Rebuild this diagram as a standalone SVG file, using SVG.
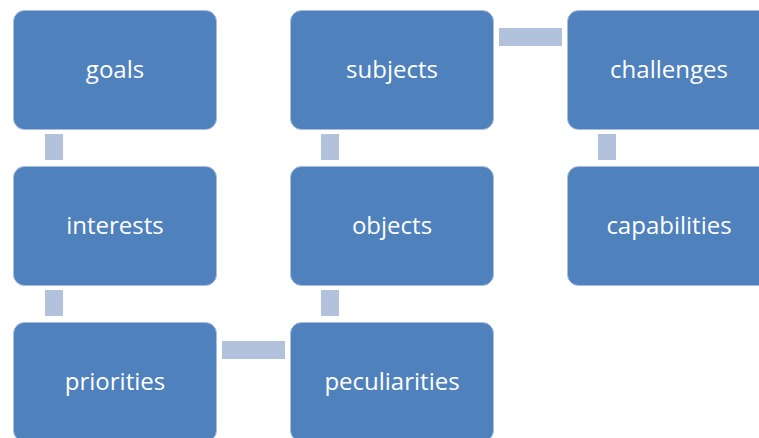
<svg xmlns="http://www.w3.org/2000/svg" width="759" height="438" viewBox="0 0 759 438">
<style>
.box{fill:#4F81BD;stroke:#A9BEDE;stroke-width:1}
.lbl{fill:#FFFFFF;font-family:"Open Sans","Noto Sans",sans-serif;font-size:24px;text-anchor:middle}
.con{fill:#B3C2DC}
</style>
<rect width="759" height="438" fill="#FFFFFF"/>
<g id="connectors">
<rect class="con" x="45" y="134" width="18" height="26"/>
<rect class="con" x="45" y="290" width="18" height="26"/>
<rect class="con" x="321" y="134" width="18" height="26"/>
<rect class="con" x="321" y="290" width="18" height="26"/>
<rect class="con" x="598" y="134" width="18" height="26"/>
<rect class="con" x="499" y="28" width="63" height="18"/>
<rect class="con" x="222" y="341" width="63" height="18"/>
</g>
<g id="goals"><rect class="box" x="13.5" y="10.5" width="203" height="119" rx="11"/><text class="lbl" x="115" y="78">goals</text></g>
<g id="interests"><rect class="box" x="13.5" y="166.5" width="203" height="119" rx="11"/><text class="lbl" x="115" y="234">interests</text></g>
<g id="priorities"><rect class="box" x="13.5" y="322.5" width="203" height="119" rx="11"/><text class="lbl" x="115" y="390">priorities</text></g>
<g id="subjects"><rect class="box" x="290.5" y="10.5" width="203" height="119" rx="11"/><text class="lbl" x="392" y="78">subjects</text></g>
<g id="objects"><rect class="box" x="290.5" y="166.5" width="203" height="119" rx="11"/><text class="lbl" x="392" y="234">objects</text></g>
<g id="peculiarities"><rect class="box" x="290.5" y="322.5" width="203" height="119" rx="11"/><text class="lbl" x="392" y="390">peculiarities</text></g>
<g id="challenges"><rect class="box" x="567.5" y="10.5" width="203" height="119" rx="11"/><text class="lbl" x="669" y="78">challenges</text></g>
<g id="capabilities"><rect class="box" x="567.5" y="166.5" width="203" height="119" rx="11"/><text class="lbl" x="669" y="234">capabilities</text></g>
</svg>
